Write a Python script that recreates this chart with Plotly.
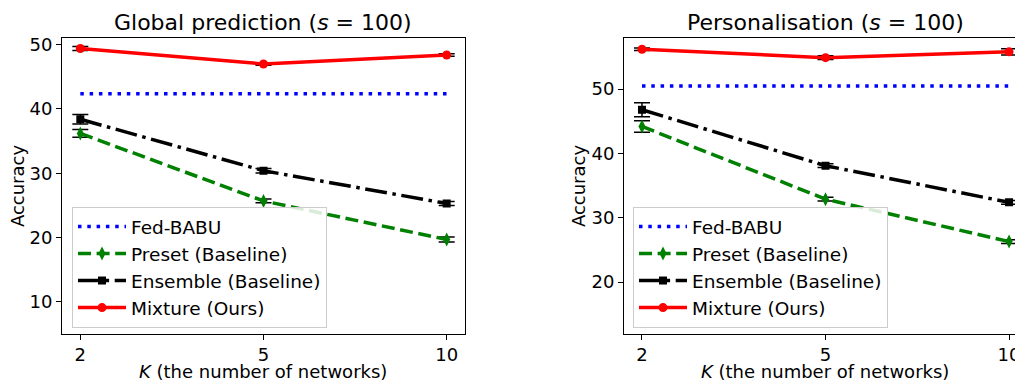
import plotly.graph_objects as go

K_labels = ["2", "5", "10"]

# Global prediction (s = 100)
g_babu = 42.35
g_preset = [36.2, 25.7, 19.7]
g_preset_err = [0.6, 0.3, 0.4]
g_ensemble = [38.4, 30.4, 25.3]
g_ensemble_err = [0.75, 0.35, 0.3]
g_mixture = [49.4, 47.0, 48.4]
g_mixture_err = [0.3, 0.2, 0.2]

# Personalisation (s = 100)
p_babu = 50.5
p_preset = [44.2, 32.9, 26.3]
p_preset_err = [0.9, 0.3, 0.3]
p_ensemble = [46.8, 38.1, 32.4]
p_ensemble_err = [1.1, 0.3, 0.3]
p_mixture = [56.2, 54.9, 55.8]
p_mixture_err = [0.2, 0.3, 0.5]

FONT = "DejaVu Sans"
LW = 3.5
FS = 18

fig = go.Figure()


def add_panel(xa, ya, leg, babu, pre, pre_e, ens, ens_e, mix, mix_e):
    eb = dict(thickness=1.5, width=8, color="black")
    fig.add_trace(go.Scatter(
        x=K_labels, y=[babu] * len(K_labels), mode="lines", name="Fed-BABU",
        line=dict(color="blue", width=LW, dash="3.5px,5.8px"),
        xaxis=xa, yaxis=ya, legend=leg, legendgroup=leg + "a"))
    fig.add_trace(go.Scatter(
        x=K_labels, y=pre, mode="lines+markers", name="Preset (Baseline)",
        line=dict(color="green", width=LW, dash="13px,5.6px"),
        marker=dict(symbol="diamond-tall", size=10, color="green"),
        error_y=dict(type="data", array=pre_e, visible=True, **eb),
        xaxis=xa, yaxis=ya, legend=leg, legendgroup=leg + "b"))
    fig.add_trace(go.Scatter(
        x=K_labels, y=ens, mode="lines+markers", name="Ensemble (Baseline)",
        line=dict(color="black", width=LW, dash="22px,5.6px,3.5px,5.6px"),
        marker=dict(symbol="square", size=8, color="black"),
        error_y=dict(type="data", array=ens_e, visible=True, **eb),
        xaxis=xa, yaxis=ya, legend=leg, legendgroup=leg + "c"))
    fig.add_trace(go.Scatter(
        x=K_labels, y=mix, mode="lines+markers", name="Mixture (Ours)",
        line=dict(color="red", width=LW),
        marker=dict(symbol="circle", size=9, color="red"),
        error_y=dict(type="data", array=mix_e, visible=True, **eb),
        xaxis=xa, yaxis=ya, legend=leg, legendgroup=leg + "d"))


add_panel("x", "y", "legend", g_babu, g_preset, g_preset_err, g_ensemble,
          g_ensemble_err, g_mixture, g_mixture_err)
add_panel("x2", "y2", "legend2", p_babu, p_preset, p_preset_err, p_ensemble,
          p_ensemble_err, p_mixture, p_mixture_err)

# page body has an 8px margin: lay out in viewport pixel coordinates
OFF = 8
W, H = 1015, 374


def px(x):
    return (x - OFF) / W


def py(y):
    return 1 - (y - OFF) / H


ydom = [py(333), py(34)]
axcommon = dict(showline=True, linecolor="black", linewidth=1.1, ticks="outside",
                ticklen=5, tickwidth=1.1, tickcolor="black", showgrid=False,
                zeroline=False, tickfont=dict(size=FS, color="black", family=FONT))

legcommon = dict(font=dict(size=18.5, color="black", family=FONT),
                 bgcolor="rgba(255,255,255,0.85)", bordercolor="#cccccc",
                 borderwidth=1, xanchor="left", yanchor="top",
                 tracegroupgap=0, itemwidth=48)

fig.update_layout(
    width=W, height=H, margin=dict(l=0, r=0, t=0, b=0),
    paper_bgcolor="white", plot_bgcolor="white",
    font=dict(family=FONT, size=FS, color="black"),
    xaxis=dict(domain=[px(62), px(465)], type="category", range=[-0.1, 2.1],
               mirror=True, anchor="y", **axcommon),
    yaxis=dict(domain=ydom, range=[5.08, 51.08], tickvals=[10, 20, 30, 40, 50],
               mirror=True, anchor="x", **axcommon),
    xaxis2=dict(domain=[px(624), 1.0], type="category", range=[-0.098, 2.076],
                mirror=True, anchor="y2", **axcommon),
    yaxis2=dict(domain=ydom, range=[12.0, 58.0], tickvals=[20, 30, 40, 50],
                mirror=False, anchor="x2", **axcommon),
    legend=dict(x=px(72), y=py(205), **legcommon),
    legend2=dict(x=px(633), y=py(205), **legcommon),
)

ann = []
for cx, title, ylx in [(263, "Global prediction (<i>s</i> = 100)", 17),
                       (825, "Personalisation (<i>s</i> = 100)", 578)]:
    ann.append(dict(x=px(cx), y=py(19), xref="paper", yref="paper",
                    text=title, showarrow=False, font=dict(size=22, family=FONT),
                    xanchor="center", yanchor="middle"))
    ann.append(dict(x=px(cx), y=py(371), xref="paper", yref="paper",
                    text="<i>K</i> (the number of networks)", showarrow=False,
                    font=dict(size=FS, family=FONT), xanchor="center", yanchor="middle"))
    ann.append(dict(x=px(ylx), y=py(184), xref="paper", yref="paper",
                    text="Accuracy", textangle=-90, showarrow=False,
                    font=dict(size=FS, family=FONT), xanchor="center", yanchor="middle"))
fig.update_layout(annotations=ann)

fig.write_html("out.html")
